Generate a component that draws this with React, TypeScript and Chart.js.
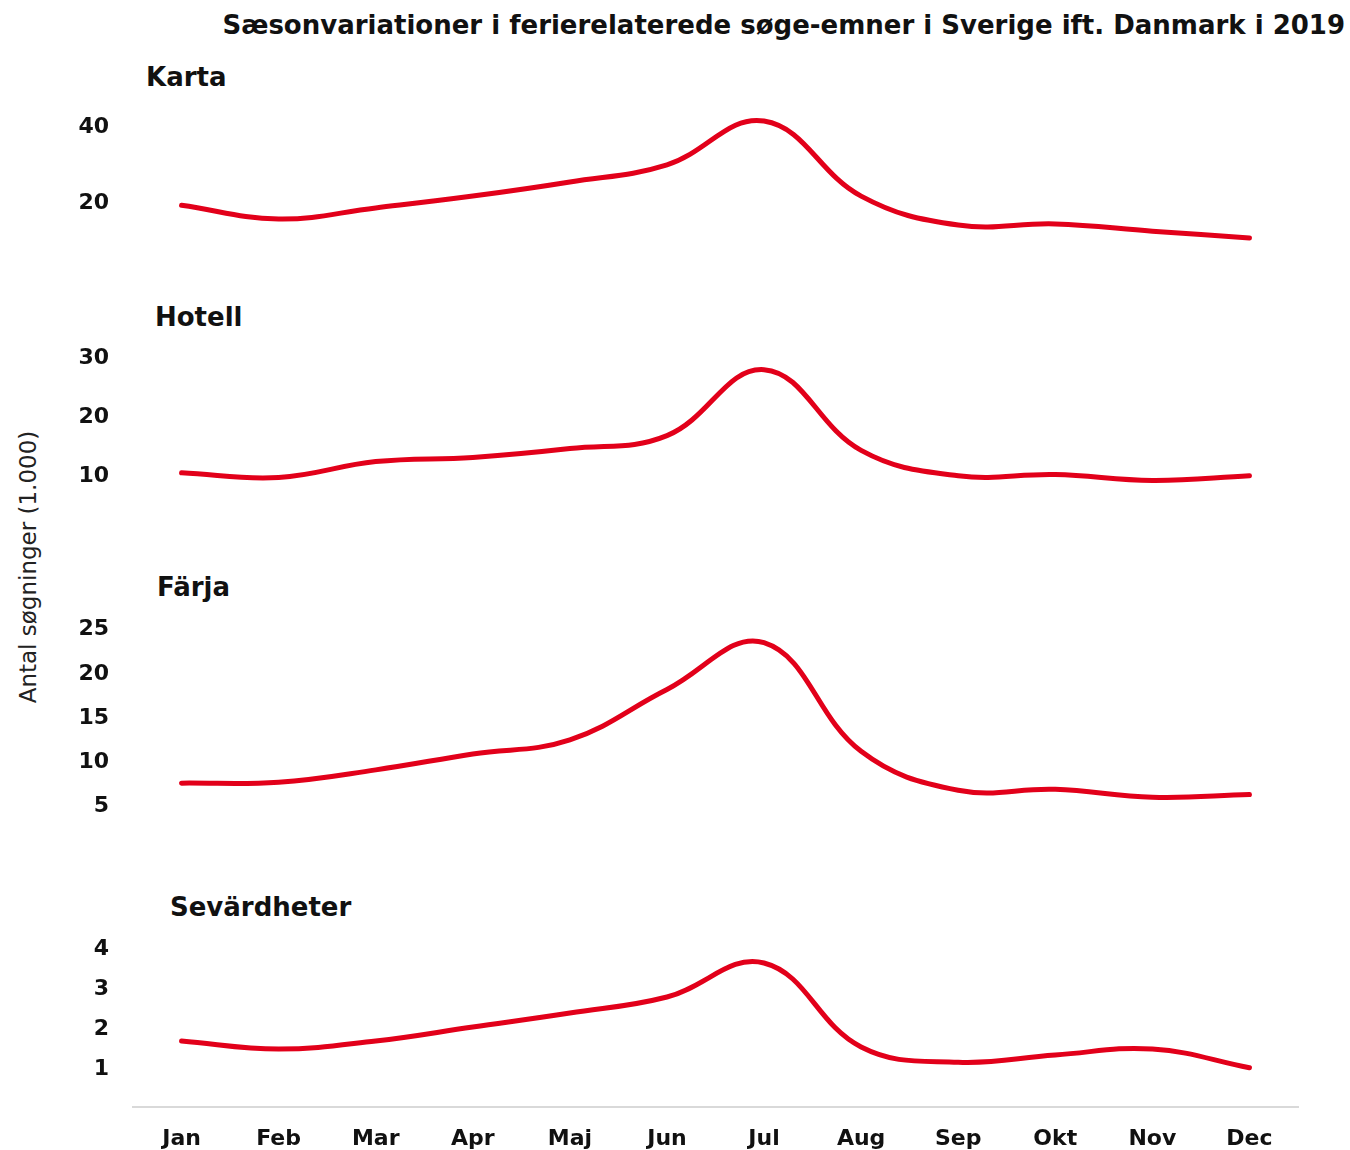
import React, { useEffect, useRef } from "react";
import { Chart, registerables } from "chart.js";

Chart.register(...registerables);

const months = ["Jan", "Feb", "Mar", "Apr", "Maj", "Jun", "Jul", "Aug", "Sep", "Okt", "Nov", "Dec"];

const kartaValues = [18.9, 15.3, 18.2, 21.3, 25.0, 29.5, 41.0, 21.3, 13.7, 14.0, 12.1, 10.3];
const hotellValues = [10.3, 9.5, 12.2, 12.9, 14.4, 16.6, 27.8, 14.1, 9.8, 10.0, 9.0, 9.8];
const farjaValues = [7.4, 7.5, 8.9, 10.7, 12.3, 18.0, 23.3, 11.0, 6.6, 6.7, 5.8, 6.1];
const sevardheterValues = [1.65, 1.45, 1.65, 2.0, 2.35, 2.75, 3.6, 1.5, 1.12, 1.3, 1.45, 0.98];

const kartaTicks = [20, 40];
const hotellTicks = [10, 20, 30];
const farjaTicks = [5, 10, 15, 20, 25];
const sevardheterTicks = [1, 2, 3, 4];

const mainTitle = "Sæsonvariationer i ferierelaterede søge-emner i Sverige ift. Danmark i 2019";
const yAxisTitle = "Antal søgninger (1.000)";

const FONT = "'DejaVu Sans', sans-serif";
const RED = "#e2001a";

type PanelProps = {
  values: number[];
  ticks: number[];
  min: number;
  max: number;
  top: number;
  height: number;
  showX: boolean;
  title: string;
  titleLeft: number;
  titleTop: number;
};

function Panel(p: PanelProps) {
  const ref = useRef<HTMLCanvasElement | null>(null);
  useEffect(() => {
    if (!ref.current) return;
    const chart = new Chart(ref.current, {
      type: "line",
      data: {
        labels: months,
        datasets: [
          {
            data: p.values,
            borderColor: RED,
            borderWidth: 5,
            pointRadius: 0,
            tension: 0.4,
            borderCapStyle: "round",
            fill: false,
          },
        ],
      },
      options: {
        animation: false,
        responsive: false,
        maintainAspectRatio: false,
        layout: { padding: { left: 0, right: 52, top: 0, bottom: 0 } },
        plugins: { legend: { display: false }, tooltip: { enabled: false }, title: { display: false } },
        scales: {
          x: {
            display: p.showX ? true : false,
            offset: true,
            grid: { display: false, drawTicks: false },
            border: { display: true, color: "#d9d9d9", width: 2 },
            ticks: {
              color: "#111",
              font: { family: FONT, size: 22, weight: "bold" },
              padding: 19,
              maxRotation: 0,
              autoSkip: false,
            },
            afterFit: (s: any) => {
              s.height = p.showX ? 43 : 0;
              s.paddingLeft = 0;
              s.paddingRight = 0;
            },
          },
          y: {
            min: p.min,
            max: p.max,
            grid: { display: false, drawTicks: false },
            border: { display: false },
            ticks: {
              color: "#111",
              font: { family: FONT, size: 22, weight: "bold" },
              padding: 24,
              labelOffset: 2,
            },
            afterBuildTicks: (s: any) => {
              s.ticks = p.ticks.map((v) => ({ value: v }));
            },
            afterFit: (s: any) => {
              s.width = 133;
              s.paddingTop = 0;
              s.paddingBottom = 0;
            },
          },
        },
      },
    });
    return () => chart.destroy();
  }, []);
  return (
    <>
      <div
        style={{
          position: "absolute",
          left: p.titleLeft,
          top: p.titleTop,
          fontFamily: FONT,
          fontWeight: "bold",
          fontSize: 26,
          color: "#111",
          lineHeight: "30px",
          whiteSpace: "nowrap",
        }}
      >
        {p.title}
      </div>
      <canvas
        ref={ref}
        width={1350}
        height={Math.round(p.height)}
        style={{ position: "absolute", left: 0, top: p.top, width: 1350, height: Math.round(p.height) }}
      />
    </>
  );
}

export default function App() {
  return (
    <div
      style={{
        position: "absolute",
        left: 0,
        top: 0,
        width: 1350,
        height: 1150,
        background: "#fff",
        overflow: "hidden",
      }}
    >
      <div
        style={{
          position: "absolute",
          right: 5,
          top: 9,
          fontFamily: FONT,
          fontWeight: "bold",
          fontSize: 26,
          color: "#111",
          lineHeight: "32px",
          whiteSpace: "nowrap",
        }}
      >
        {mainTitle}
      </div>
      <div
        style={{
          position: "absolute",
          left: 28 - 180,
          top: 567 - 15,
          width: 360,
          textAlign: "center",
          transform: "rotate(-90deg)",
          fontFamily: FONT,
          fontSize: 23,
          color: "#222",
          lineHeight: "30px",
          whiteSpace: "nowrap",
        }}
      >
        {yAxisTitle}
      </div>
      <Panel values={kartaValues} ticks={kartaTicks} min={4} max={46} top={102} height={160} showX={false} title="Karta" titleLeft={146} titleTop={62} />
      <Panel values={hotellValues} ticks={hotellTicks} min={5} max={33} top={339} height={165} showX={false} title="Hotell" titleLeft={155} titleTop={302} />
      <Panel values={farjaValues} ticks={farjaTicks} min={3} max={27} top={610} height={212} showX={false} title="Färja" titleLeft={157} titleTop={572} />
      <Panel values={sevardheterValues} ticks={sevardheterTicks} min={0} max={4.6} top={923} height={227} showX={true} title="Sevärdheter" titleLeft={170} titleTop={892} />
    </div>
  );
}
